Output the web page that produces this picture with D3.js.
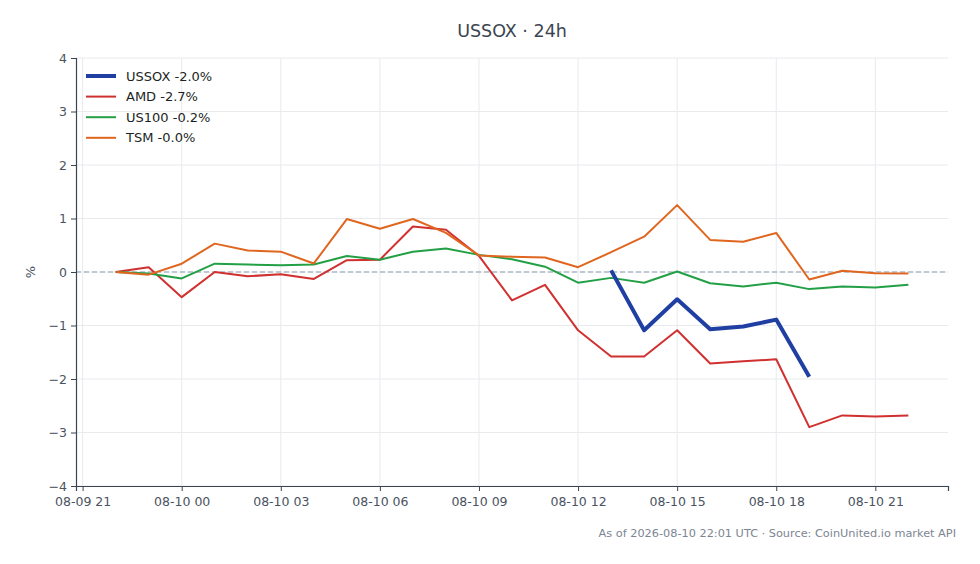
<!DOCTYPE html>
<html>
<head>
<meta charset="utf-8">
<script src="https://cdn.jsdelivr.net/npm/d3@7"></script>
<style>
  body { margin: 0; background: #fff; }
  svg { display: block; overflow: visible; font-family: "DejaVu Sans", sans-serif; }
</style>
</head>
<body>
<svg id="chart"></svg>
<script>
// Hourly points, 2026-08-09 22:00 UTC to 2026-08-10 22:00 UTC
const startTime = Date.UTC(2026, 7, 9, 22);
const hours = d3.range(25).map(i => new Date(startTime + i * 3600e3));

const seriesNames = ["USSOX", "AMD", "US100", "TSM"];
const seriesColors = ["#1f3fa3", "#d0302f", "#23a046", "#e0661f"];
const seriesWidths = [4, 2, 2, 2];

// % change from first point
const ussox = [null, null, null, null, null, null, null, null, null, null, null, null, null, null, null,
  0.03, -1.09, -0.51, -1.07, -1.02, -0.89, -1.96, null, null, null];
const amd = [0, 0.09, -0.47, 0, -0.08, -0.04, -0.13, 0.22, 0.23, 0.85, 0.79, 0.30, -0.53,
  -0.24, -1.09, -1.58, -1.58, -1.09, -1.71, -1.67, -1.63, -2.90, -2.68, -2.70, -2.68];
const us100 = [0, -0.03, -0.12, 0.155, 0.14, 0.125, 0.14, 0.30, 0.23, 0.38, 0.44, 0.32, 0.24,
  0.10, -0.20, -0.11, -0.20, 0.01, -0.21, -0.27, -0.20, -0.32, -0.27, -0.29, -0.24];
const tsm = [0, -0.05, 0.155, 0.53, 0.40, 0.38, 0.16, 0.99, 0.81, 0.99, 0.73, 0.31, 0.285,
  0.27, 0.09, 0.37, 0.66, 1.25, 0.60, 0.565, 0.73, -0.14, 0.025, -0.025, -0.03];

const legendLabels = ["USSOX -2.0%", "AMD -2.7%", "US100 -0.2%", "TSM -0.0%"];
const yTicks = [-4, -3, -2, -1, 0, 1, 2, 3, 4];

const titleText = "USSOX · 24h";
const footerText = "As of 2026-08-10 22:01 UTC · Source: CoinUnited.io market API";

const width = 980, height = 564;
const margin = { top: 58, right: 32, bottom: 78, left: 76 };
const innerWidth = width - margin.left - margin.right;
const innerHeight = height - margin.top - margin.bottom;

const svg = d3.select("#chart").attr("width", width).attr("height", height);

// 5% padding on the time axis
const span = hours[hours.length - 1] - hours[0];
const xScale = d3.scaleUtc()
  .domain([new Date(+hours[0] - span * 0.05), new Date(+hours[hours.length - 1] + span * 0.05)])
  .range([0, innerWidth]);
const yScale = d3.scaleLinear().domain([-4, 4]).range([innerHeight, 0]);

const g = svg.append("g").attr("transform", `translate(${margin.left},${margin.top})`);

const xTicks = xScale.ticks(d3.utcHour.every(3));

// grid
g.append("g").selectAll("line").data(yTicks).join("line")
  .attr("x1", 0).attr("x2", innerWidth)
  .attr("y1", d => yScale(d)).attr("y2", d => yScale(d))
  .attr("stroke", "#e8eaee").attr("stroke-width", 1);
g.append("g").selectAll("line").data(xTicks).join("line")
  .attr("x1", d => xScale(d)).attr("x2", d => xScale(d))
  .attr("y1", 0).attr("y2", innerHeight)
  .attr("stroke", "#e8eaee").attr("stroke-width", 1);

// zero line
g.append("line")
  .attr("x1", 0).attr("x2", innerWidth)
  .attr("y1", yScale(0)).attr("y2", yScale(0))
  .attr("stroke", "#8c9bb0").attr("stroke-width", 1)
  .attr("stroke-dasharray", "5,3");

// axes
const yAxis = g.append("g")
  .call(d3.axisLeft(yScale).tickValues(yTicks).tickSize(5).tickPadding(4));
const xAxis = g.append("g")
  .attr("transform", `translate(0,${innerHeight})`)
  .call(d3.axisBottom(xScale).tickValues(xTicks).tickSize(5).tickPadding(6)
    .tickFormat(d3.utcFormat("%m-%d %H")));

[xAxis, yAxis].forEach(ax => {
  ax.select(".domain").attr("stroke", "#3b4552").attr("stroke-width", 1.2);
  ax.selectAll(".tick line").attr("stroke", "#3b4552");
  ax.selectAll(".tick text").attr("fill", "#4a5361")
    .attr("font-size", 12.5)
    .attr("font-family", "DejaVu Sans, sans-serif");
});

// lines
const allSeries = [ussox, amd, us100, tsm];
const line = d3.line()
  .defined(d => d.v !== null)
  .x(d => xScale(d.t))
  .y(d => yScale(d.v));

// draw AMD, US100, TSM first, USSOX on top
[1, 2, 3, 0].forEach(i => {
  const data = allSeries[i].map((v, j) => ({ t: hours[j], v: v }));
  g.append("path")
    .datum(data)
    .attr("fill", "none")
    .attr("stroke", seriesColors[i])
    .attr("stroke-width", seriesWidths[i])
    .attr("stroke-linejoin", "round")
    .attr("d", line);
});

// legend
const legend = g.append("g").attr("transform", "translate(10,18)");
seriesNames.forEach((name, i) => {
  const row = legend.append("g").attr("transform", `translate(0,${i * 20.6})`);
  row.append("line")
    .attr("x1", 0).attr("x2", 30).attr("y1", 0).attr("y2", 0)
    .attr("stroke", seriesColors[i]).attr("stroke-width", seriesWidths[i]);
  row.append("text")
    .attr("x", 40).attr("y", 0).attr("dy", "0.35em")
    .attr("fill", "#1c1f24")
    .attr("font-size", 13)
    .text(legendLabels[i]);
});

// title
svg.append("text")
  .attr("x", margin.left + innerWidth / 2)
  .attr("y", 37)
  .attr("text-anchor", "middle")
  .attr("fill", "#3b4552")
  .attr("font-size", 17.5)
  .text(titleText);

// y label
svg.append("text")
  .attr("transform", `translate(35,${margin.top + innerHeight / 2}) rotate(-90)`)
  .attr("text-anchor", "middle")
  .attr("fill", "#4a5361")
  .attr("font-size", 13)
  .text("%");

// footer
svg.append("text")
  .attr("x", 956)
  .attr("y", 537)
  .attr("text-anchor", "end")
  .attr("fill", "#7c8592")
  .attr("font-size", 11.3)
  .text(footerText);
</script>
</body>
</html>
